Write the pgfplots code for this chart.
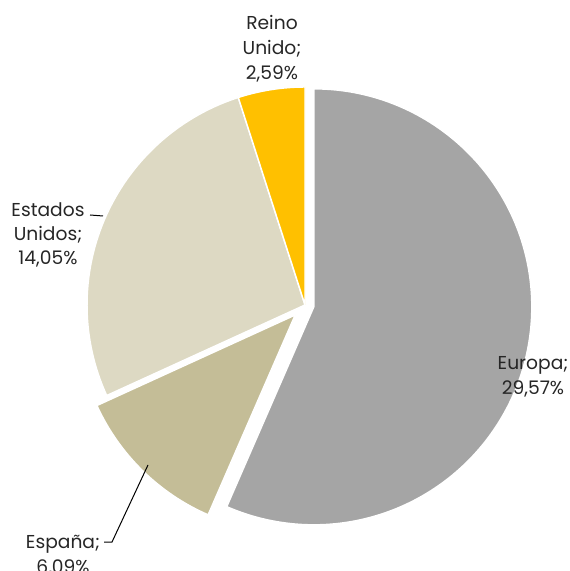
\documentclass[border=0pt]{standalone}
\usepackage{pgfplots}
\pgfplotsset{compat=1.18}
\usepackage{fontspec}
\setmainfont{Poppins}

\definecolor{cEur}{HTML}{A5A5A5}
\definecolor{cEsp}{HTML}{C4BD97}
\definecolor{cUSA}{HTML}{DDD9C3}
\definecolor{cUK}{HTML}{FFC000}

% shares (%), drawn clockwise from 12 o'clock
\def\vEur{29.57}
\def\vEsp{6.09}
\def\vUSA{14.05}
\def\vUK{2.59}

\tikzset{lbl/.style={anchor=base, font=\fontsize{14}{17}\selectfont, text=black!85}}

% one slice: colour, start angle, end angle (clockwise from top), explode (px)
\newcommand\slice[4]{%
  \fill[#1, draw=white, line width=1.1pt, line join=round]
    (axis cs:305,266) ++({90-(#2+#3)/2}:{#4*0.75pt})
    -- ++({90-#2}:163.5pt)
    arc[start angle={90-#2}, end angle={90-#3}, radius=163.5pt]
    -- cycle;}

\begin{document}
\begin{tikzpicture}
\pgfmathsetmacro\tot{\vEur+\vEsp+\vUSA+\vUK}
\pgfmathsetmacro\aA{360*\vEur/\tot}
\pgfmathsetmacro\aB{\aA+360*\vEsp/\tot}
\pgfmathsetmacro\aC{\aB+360*\vUSA/\tot}
\begin{axis}[
    hide axis,
    x=0.75pt, y=0.75pt,
    xmin=0, xmax=569,
    ymin=0, ymax=571,
    clip=false,
  ]
  % slices
  \slice{cEur}{0}{\aA}{9}
  \slice{cEsp}{\aA}{\aB}{14}
  \slice{cUSA}{\aB}{\aC}{0}
  \slice{cUK}{\aC}{360}{0}

  % leader lines
  \draw[black, line width=0.75pt] (axis cs:90,356) -- (axis cs:103,355);
  \draw[black, line width=0.75pt] (axis cs:104,29) -- (axis cs:112,29) -- (axis cs:148,106);

  % data labels
  \node[lbl] at (axis cs:272,541) {Reino};
  \node[lbl] at (axis cs:272,516) {Unido;};
  \node[lbl] at (axis cs:272,491) {2,59\%};

  \node[lbl] at (axis cs:48,354) {Estados};
  \node[lbl] at (axis cs:48,330) {Unidos;};
  \node[lbl] at (axis cs:48,306) {14,05\%};

  \node[lbl] at (axis cs:533,201) {Europa;};
  \node[lbl] at (axis cs:533,176) {29,57\%};

  \node[lbl] at (axis cs:63,23) {España;};
  \node[lbl] at (axis cs:63,-2) {6,09\%};
\end{axis}
\pgfresetboundingbox
\path (current axis.south west) rectangle (current axis.north east);
\end{tikzpicture}
\end{document}
